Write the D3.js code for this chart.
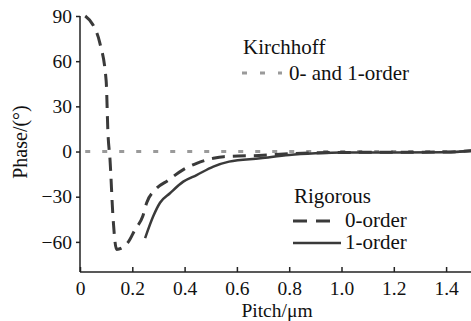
<!DOCTYPE html>
<html>
<head>
<meta charset="utf-8">
<script src="https://cdn.jsdelivr.net/npm/d3@7"></script>
</head>
<body style="margin:0;background:#fff">
<div id="chart"></div>
<script>
let width = 471, height = 321;
let margin = {left: 80, right: 0, top: 16, bottom: 49};
let serif = "Liberation Serif";

// values
let kirchhoffPitch = [0.02, 1.5];
let kirchhoffPhase = [0, 0];

let rig0Pitch = [0.02, 0.05, 0.076, 0.1, 0.107, 0.115, 0.126, 0.14, 0.185, 0.21, 0.24, 0.255, 0.287, 0.338, 0.395, 0.446, 0.51, 0.55, 0.7, 0.8, 1.0, 1.2, 1.4, 1.5];
let rig0Phase = [90, 84, 72, 47, 12, -6, -43, -65, -60, -52, -43, -34, -25.5, -19, -12, -7.8, -4.5, -3.4, -2.5, -1.5, -0.6, -0.5, -0.3, 0.5];

let rig1Pitch = [0.249, 0.28, 0.306, 0.344, 0.395, 0.446, 0.51, 0.57, 0.69, 0.8, 0.9, 1.0, 1.2, 1.4, 1.5];
let rig1Phase = [-57.5, -43, -34, -27.7, -20, -15.6, -10, -6.7, -4.5, -2.3, -1.2, -0.6, -0.7, -0.5, 0.5];

let xTicks = [0, 0.2, 0.4, 0.6, 0.8, 1.0, 1.2, 1.4];
let yTicks = [-60, -30, 0, 30, 60, 90];

let svg = d3.select("#chart").append("svg")
    .attr("width", width)
    .attr("height", height)
    .attr("font-family", serif);

let xScale = d3.scaleLinear()
    .domain([0, 1.5])
    .range([margin.left, margin.left + 7.5 * 52.3]);

let yScale = d3.scaleLinear()
    .domain([-80, 90])
    .range([height - margin.bottom, margin.top]);

let zip = (a, b) => a.map((v, i) => [v, b[i]]);
let line = d3.line()
    .x(d => xScale(d[0]))
    .y(d => yScale(d[1]));

// Kirchhoff dotted
svg.append("path")
    .datum(zip(kirchhoffPitch, kirchhoffPhase))
    .attr("d", line)
    .attr("fill", "none")
    .attr("stroke", "#9a9a9a")
    .attr("stroke-width", 3)
    .attr("stroke-dasharray", "5,12");

// rigorous 0-order dashed
svg.append("path")
    .datum(zip(rig0Pitch, rig0Phase))
    .attr("d", line.curve(d3.curveMonotoneX))
    .attr("fill", "none")
    .attr("stroke", "#3a3a3a")
    .attr("stroke-width", 3)
    .attr("stroke-dasharray", "13,8");

// rigorous 1-order solid
svg.append("path")
    .datum(zip(rig1Pitch, rig1Phase))
    .attr("d", line.curve(d3.curveMonotoneX))
    .attr("fill", "none")
    .attr("stroke", "#3a3a3a")
    .attr("stroke-width", 2.5);

// axes
let xAxis = d3.axisBottom(xScale)
    .tickValues(xTicks)
    .tickSizeInner(-5)
    .tickSizeOuter(0)
    .tickPadding(9)
    .tickFormat(d => d === 0 ? "0" : d3.format(".1f")(d));

let yAxis = d3.axisLeft(yScale)
    .tickValues(yTicks)
    .tickSizeInner(4)
    .tickSizeOuter(0)
    .tickPadding(4)
    .tickFormat(d => d < 0 ? "\u2212" + Math.abs(d) : d);

let gx = svg.append("g")
    .attr("transform", "translate(0," + (height - margin.bottom) + ")")
    .call(xAxis)
    .attr("font-family", serif);
gx.select(".domain").attr("d", "M" + margin.left + ",0H" + width);

let gy = svg.append("g")
    .attr("transform", "translate(" + margin.left + ",0)")
    .call(yAxis)
    .attr("font-family", serif);
gy.select(".domain").attr("d", "M0," + yScale(90) + "V" + (height - margin.bottom));

svg.selectAll(".domain, .tick line").attr("stroke", "#222").attr("stroke-width", 1.5);
svg.selectAll(".tick text").attr("font-size", "19.5px").attr("fill", "#111")
    .attr("font-family", serif);

svg.append("text")
    .attr("x", 277)
    .attr("y", 317)
    .attr("text-anchor", "middle")
    .attr("font-size", "19.5px")
    .attr("fill", "#111")
    .text("Pitch/\u03bcm");

svg.append("text")
    .attr("transform", "translate(27,142) rotate(-90)")
    .attr("text-anchor", "middle")
    .attr("font-size", "20px")
    .attr("fill", "#111")
    .text("Phase/(\u00b0)");

// legend
let legend = svg.append("g").attr("font-size", "21px").attr("fill", "#111");
legend.append("text").attr("x", 243).attr("y", 54).text("Kirchhoff");
legend.append("line").attr("x1", 242).attr("x2", 282).attr("y1", 73).attr("y2", 73)
    .attr("stroke", "#9a9a9a").attr("stroke-width", 3).attr("stroke-dasharray", "5,13");
legend.append("text").attr("x", 289).attr("y", 80).text("0- and 1-order");

legend.append("text").attr("x", 294).attr("y", 203).text("Rigorous");
legend.append("line").attr("x1", 293).attr("x2", 337).attr("y1", 221).attr("y2", 221)
    .attr("stroke", "#3a3a3a").attr("stroke-width", 3).attr("stroke-dasharray", "14,9");
legend.append("text").attr("x", 345).attr("y", 227).text("0-order");
legend.append("line").attr("x1", 293).attr("x2", 341).attr("y1", 243).attr("y2", 243)
    .attr("stroke", "#3a3a3a").attr("stroke-width", 2.5);
legend.append("text").attr("x", 345).attr("y", 249).text("1-order");
</script>
</body>
</html>
